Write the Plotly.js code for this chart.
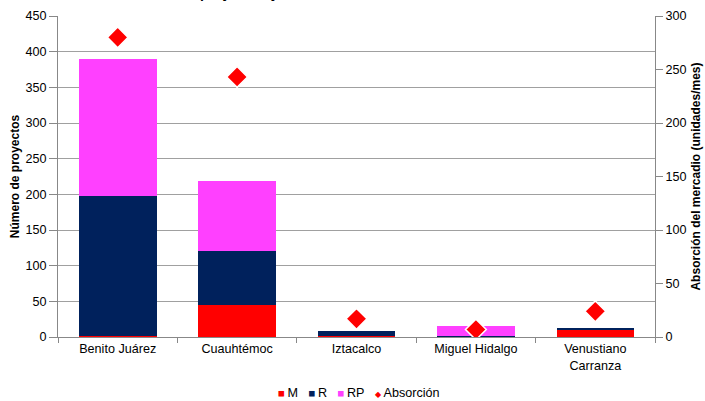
<!DOCTYPE html>
<html>
<head>
<meta charset="utf-8">
<script src="https://cdn.plot.ly/plotly-3.0.1.min.js"></script>
<style>html,body{margin:0;padding:0;background:#fff;}#chart{width:705px;height:401px;}</style>
</head>
<body>
<div id="chart"></div>
<script>
const categories = ["Benito Juárez", "Cuauhtémoc", "Iztacalco", "Miguel Hidalgo", "Venustiano<br>Carranza"];
const valuesM = [1, 45, 2, 0, 10];
const valuesR = [196, 75, 6, 2, 3];
const valuesRP = [193, 99, 0, 13, 0];
const absorcion = [280, 243, 17, 7, 24];
const seriesNames = ["M", "R", "RP", "Absorción"];
const seriesColors = ["#FF0000", "#00215C", "#FF40FF", "#FF0000"];

const FAM = "Liberation Sans, Arial, sans-serif";
const FS = 12.6;

const traces = [
  {type: "bar", name: seriesNames[0], x: categories, y: valuesM, marker: {color: seriesColors[0]}},
  {type: "bar", name: seriesNames[1], x: categories, y: valuesR, marker: {color: seriesColors[1]}},
  {type: "bar", name: seriesNames[2], x: categories, y: valuesRP, marker: {color: seriesColors[2]}},
  {type: "scatter", mode: "markers", name: seriesNames[3], x: categories, y: absorcion, yaxis: "y2",
   marker: {symbol: "diamond", size: 16, color: seriesColors[3], line: {color: "#FFFFFF", width: 1.5}}}
];

// compact legend built as one text line
const sq = (c) => '<span style="color:' + c + ';font-size:11.5px">■</span>';
const dm = (c) => '<span style="color:' + c + ';font-size:8px">◆</span>';
const legendText = sq(seriesColors[0]) + '\u2009' + seriesNames[0] + '   ' +
                   sq(seriesColors[1]) + '\u2009' + seriesNames[1] + '   ' +
                   sq(seriesColors[2]) + '\u2009' + seriesNames[2] + '   ' +
                   dm(seriesColors[3]) + ' ' + seriesNames[3];

const layout = {
  width: 705, height: 401,
  margin: {l: 58, r: 50, t: 16, b: 64},
  paper_bgcolor: "#fff", plot_bgcolor: "#fff",
  font: {family: FAM, size: FS, color: "#000"},
  barmode: "stack",
  bargap: 0.35,
  showlegend: false,
  xaxis: {type: "category", showline: true, linecolor: "#888", linewidth: 1, ticks: "outside", tickson: "boundaries",
          ticklen: 5, tickcolor: "#888", showgrid: false, tickfont: {size: FS}},
  yaxis: {range: [0, 450], dtick: 50, showline: true, linecolor: "#888", ticks: "outside", ticklen: 8, tickcolor: "#888",
          gridcolor: "#A0A0A0", gridwidth: 1, zeroline: false, tickfont: {size: FS},
          title: {text: "<b>Número de proyectos</b>", font: {size: 12}, standoff: 3}},
  yaxis2: {range: [0, 300], dtick: 50, overlaying: "y", side: "right", showline: true, linecolor: "#888",
           ticks: "outside", ticklen: 7, tickcolor: "#888", showgrid: false, zeroline: false, tickfont: {size: FS},
           title: {text: "<b>Absorción del mercadio (unidades/mes)</b>", font: {size: 12}, standoff: 6}},
  annotations: [
    {text: "<b>Número de proyectos y absorción del mercado</b>", xref: "paper", yref: "paper", x: 0.105, xanchor: "left",
     y: 1.0, yshift: 13, yanchor: "bottom", showarrow: false, font: {size: 14}},
    {text: legendText, xref: "paper", yref: "paper", x: 0.0, xshift: 218, xanchor: "left",
     y: 0, yshift: -56, yanchor: "middle", showarrow: false, font: {size: FS}}
  ]
};

Plotly.newPlot("chart", traces, layout, {displayModeBar: false, staticPlot: true});
</script>
</body>
</html>
